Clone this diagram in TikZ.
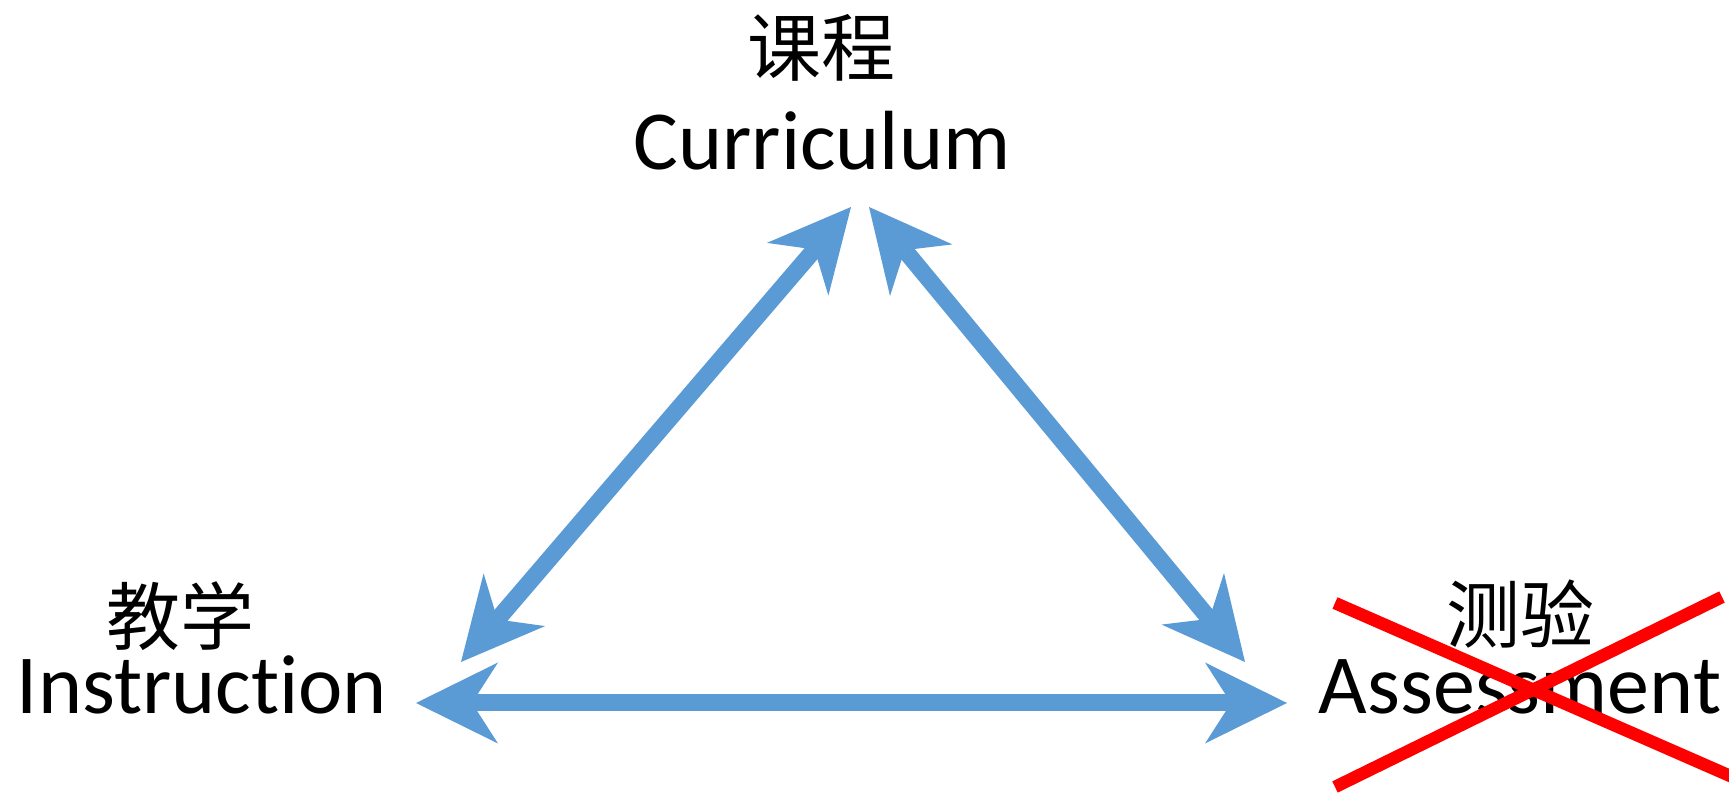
\documentclass[tikz,border=0pt]{standalone}
\usepackage{fontspec}
\setmainfont{Carlito}[Ligatures={NoCommon}]
\newfontfamily\cjk{Noto Sans CJK SC}
\usetikzlibrary{arrows.meta,positioning}
\definecolor{linkblue}{RGB}{91,155,213}

\begin{document}
\begin{tikzpicture}[
			x=1pt, y=1pt,
			every node/.style={inner sep=0pt},
			en/.style={font=\fontsize{84}{100}\selectfont, anchor=base},
			cn/.style={font=\fontsize{74}{90}\selectfont\cjk},
			link/.style={
				draw=linkblue,
				line width=17pt,
				>={Stealth[length=82pt, width=81pt, inset=26pt, line width=0pt]},
				<->
			},
			cross/.style={draw=red, line width=12.5pt}
			]
			
			\clip (0,0) rectangle (1729,794);
			
			% ---- Labels ----
			\node[en] (curen) at (822,624) {Curriculum};
			\node[cn] (curcn) at (821,746) {课程};
			\node[en] (insen) at (202,80) {Instruction};
			\node[cn] (inscn) at (180,178) {教学};
			\node[en] (assen) at (1520,80) {Assessment};
			\node[cn] (asscn) at (1520,180) {测验};
			
			% ---- Arrow ends ----
			\coordinate (curL) at (851,587);
			\coordinate (curR) at (869,587);
			\coordinate (insT) at (461,132);
			\coordinate (insR) at (416,91);
			\coordinate (assT) at (1245,132);
			\coordinate (assL) at (1287,91);
			
			% ---- Arrows ----
			\draw[link] (curL) -- (insT);
			\draw[link] (curR) -- (assT);
			\draw[link] (insR) -- (assL);
			
			% ---- Cross over Assessment ----
			\coordinate (x1a) at (1335,191);
			\coordinate (x1b) at (1760,5);
			\coordinate (x2a) at (1335,7);
			\coordinate (x2b) at (1722,197);
			\draw[cross] (x1a) -- (x1b);
			\draw[cross] (x2a) -- (x2b);
			
		\end{tikzpicture}
\end{document}
